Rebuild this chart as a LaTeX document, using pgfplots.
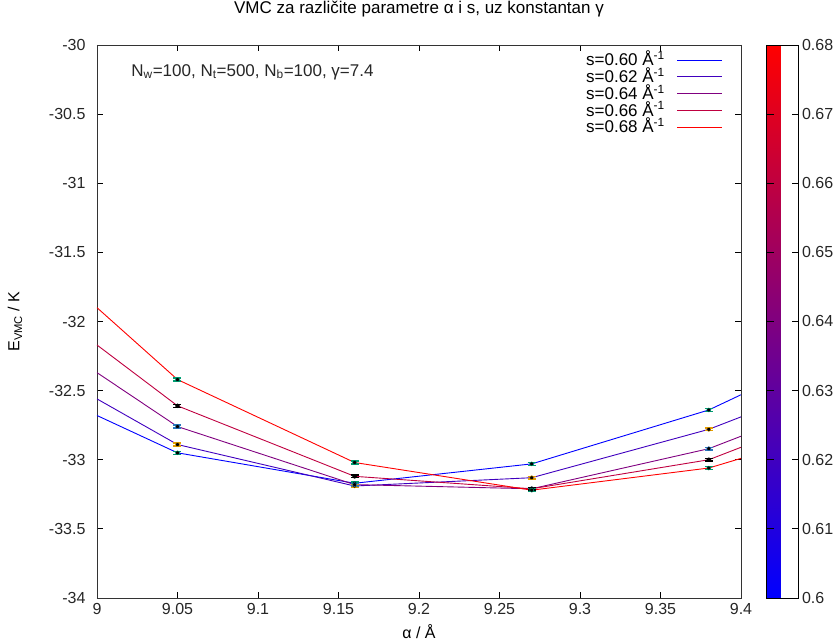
\documentclass[border=0pt]{standalone}
\usepackage{fontspec}
\setmainfont{Liberation Sans}
\usepackage{pgfplots}
\pgfplotsset{compat=1.18}
\definecolor{s060}{RGB}{0,0,255}
\definecolor{s062}{RGB}{64,0,191}
\definecolor{s064}{RGB}{128,0,128}
\definecolor{s066}{RGB}{191,0,64}
\definecolor{s068}{RGB}{255,0,0}
\definecolor{ebteal}{RGB}{0,158,115}
\definecolor{ebblue}{RGB}{40,120,190}
\definecolor{eborange}{RGB}{230,159,0}
\pgfplotsset{
  ebar/.style={forget plot, only marks, mark=none, draw=#1,
    error bars/.cd, y dir=both, y explicit,
    error bar style={draw=#1, line width=1.4pt},
    error mark options={rotate=90, mark size=4pt, line width=1.4pt, draw=#1}},
}
\begin{document}
\begin{tikzpicture}
\begin{axis}[
  scale only axis, width=644pt, height=553pt,
  xmin=9, xmax=9.4, ymin=-34, ymax=-30,
  xtick={9,9.05,9.1,9.15,9.2,9.25,9.3,9.35,9.4},
  xticklabels={9,9.05,9.1,9.15,9.2,9.25,9.3,9.35,9.4},
  ytick={-34,-33.5,-33,-32.5,-32,-31.5,-31,-30.5,-30},
  yticklabels={-34,-33.5,-33,-32.5,-32,-31.5,-31,-30.5,-30},
  tick align=inside, major tick length=6pt,
  tick style={black, line width=0.8pt},
  axis line style={line width=0.8pt, black!80},
  tick label style={font=\fontsize{16}{18}\selectfont, text=black!85},
  xticklabel style={yshift=-2pt},
  yticklabel style={xshift=-8pt},
  title={VMC za različite parametre α i s, uz konstantan γ},
  title style={at={(0.5,1.0542)}, anchor=center, font=\fontsize{17}{20}\selectfont},
  xlabel={α / Å},
  xlabel style={at={(0.5,-0.0615)}, anchor=center, font=\fontsize{16}{18}\selectfont},
  ylabel={E\textsubscript{VMC} / K},
  ylabel style={at={(-0.1273,0.5)}, anchor=center, rotate=0, font=\fontsize{16}{18}\selectfont},
  colormap={br}{rgb255(0cm)=(0,0,255); rgb255(1cm)=(255,0,0)},
  point meta min=0.6, point meta max=0.68,
  colorbar,
  colorbar style={
    at={(parent axis.north east)}, anchor=north west, xshift=17pt,
    width=32pt,
    ytick={0.6,0.61,0.62,0.63,0.64,0.65,0.66,0.67,0.68},
    yticklabels={0.6,0.61,0.62,0.63,0.64,0.65,0.66,0.67,0.68},
    tick align=inside, major tick length=7pt,
    ytick pos=both, yticklabel pos=right,
    yticklabel style={font=\fontsize{16}{18}\selectfont, xshift=0pt},
  },
]
\addplot[color=s060, line width=0.9pt, no marks] coordinates {(9,-32.68) (9.05,-32.95) (9.16,-33.17) (9.27,-33.03) (9.38,-32.64) (9.4,-32.53)};
\addplot[color=s062, line width=0.9pt, no marks] coordinates {(9,-32.56) (9.05,-32.89) (9.16,-33.19) (9.27,-33.13) (9.38,-32.78) (9.4,-32.69)};
\addplot[color=s064, line width=0.9pt, no marks] coordinates {(9,-32.37) (9.05,-32.76) (9.16,-33.18) (9.27,-33.21) (9.38,-32.92) (9.4,-32.83)};
\addplot[color=s066, line width=0.9pt, no marks] coordinates {(9,-32.17) (9.05,-32.61) (9.16,-33.12) (9.27,-33.21) (9.38,-33.00) (9.4,-32.91)};
\addplot[color=s068, line width=0.9pt, no marks] coordinates {(9,-31.90) (9.05,-32.42) (9.16,-33.02) (9.27,-33.22) (9.38,-33.06) (9.4,-32.99)};
% error bars
\addplot[ebar=ebteal] coordinates {(9.05,-32.95) +- (0,0.01) (9.16,-33.17) +- (0,0.01) (9.27,-33.03) +- (0,0.01) (9.38,-32.64) +- (0,0.01)};
\addplot[ebar=eborange] coordinates {(9.05,-32.89) +- (0,0.01) (9.16,-33.19) +- (0,0.01) (9.27,-33.13) +- (0,0.01) (9.38,-32.78) +- (0,0.01)};
\addplot[ebar=ebblue] coordinates {(9.05,-32.76) +- (0,0.01) (9.16,-33.18) +- (0,0.01) (9.27,-33.21) +- (0,0.01) (9.38,-32.92) +- (0,0.01)};
\addplot[ebar=black] coordinates {(9.05,-32.61) +- (0,0.01) (9.16,-33.12) +- (0,0.01) (9.27,-33.21) +- (0,0.01) (9.38,-33.00) +- (0,0.01)};
\addplot[ebar=ebteal] coordinates {(9.05,-32.42) +- (0,0.01) (9.16,-33.02) +- (0,0.01) (9.27,-33.22) +- (0,0.01) (9.38,-33.06) +- (0,0.01)};
\node[anchor=west, font=\fontsize{17}{18}\selectfont, text=black!85] at (rel axis cs:0.048,0.951)
  {N\textsubscript{w}=100, N\textsubscript{t}=500, N\textsubscript{b}=100, γ=7.4};
\end{axis}
% legend: sample lines first, then the texts
\draw[draw=s060, line width=0.9pt] (580pt,538pt) -- (625pt,538pt);
\draw[draw=s062, line width=0.9pt] (580pt,521.25pt) -- (625pt,521.25pt);
\draw[draw=s064, line width=0.9pt] (580pt,504.5pt) -- (625pt,504.5pt);
\draw[draw=s066, line width=0.9pt] (580pt,487.75pt) -- (625pt,487.75pt);
\draw[draw=s068, line width=0.9pt] (580pt,471pt) -- (625pt,471pt);
\foreach \s/\y in {0.60/538, 0.62/521.25, 0.64/504.5, 0.66/487.75, 0.68/471} {
  \node[anchor=base east, inner sep=0pt, font=\fontsize{17}{18}\selectfont] at (568pt,\y pt-6pt)
    {s=\s\ Å\textsuperscript{-1}};
}
\pgfresetboundingbox
\path (-97pt,-46pt) rectangle (742pt,598pt);
\end{tikzpicture}
\end{document}
